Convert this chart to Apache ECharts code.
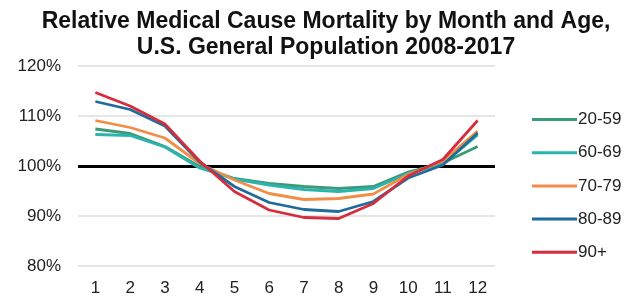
<!DOCTYPE html>
<html>
<head>
<meta charset="utf-8">
<script src="https://cdn.jsdelivr.net/npm/echarts@6/dist/echarts.min.js"></script>
<style>
  html, body { margin: 0; padding: 0; background: #fff; }
  #chart { width: 638px; height: 300px; }
</style>
</head>
<body>
<div id="chart"></div>
<script>
// months on the x axis
var months = ["1", "2", "3", "4", "5", "6", "7", "8", "9", "10", "11", "12"];
// relative mortality (%) per age group
var age2059 = [107.4, 106.5, 103.9, 99.9, 97.5, 96.5, 95.9, 95.5, 95.9, 98.8, 100.6, 103.9];
var age6069 = [106.3, 106.1, 103.8, 99.6, 97.4, 96.2, 95.3, 94.9, 95.5, 98.5, 100.4, 106.2];
var age7079 = [109.1, 107.7, 105.6, 100.5, 97.2, 94.5, 93.3, 93.5, 94.4, 98.3, 101.0, 107.0];
var age8089 = [112.9, 111.3, 108.0, 100.8, 95.9, 92.7, 91.3, 90.9, 92.9, 97.6, 100.2, 106.6];
var age90 = [114.7, 112.0, 108.4, 101.0, 94.9, 91.2, 89.7, 89.5, 92.5, 98.0, 101.3, 109.1];
var yTicks = [80, 90, 100, 110, 120];

var names = ["20-59", "60-69", "70-79", "80-89", "90+"];
var colors = ["#3b9a78", "#2bb3ad", "#f08d47", "#1f6b9c", "#d62d3c"];
var values = [age2059, age6069, age7079, age8089, age90];

var series = names.map(function (n, i) {
  return {
    name: n,
    type: "line",
    data: values[i],
    symbol: "none",
    lineStyle: { width: 2.8, color: colors[i] },
    itemStyle: { color: colors[i] },
    z: 3 + i
  };
});
// black reference line at 100%
series[0].markLine = {
  silent: true,
  symbol: "none",
  label: { show: false },
  lineStyle: { color: "#000", width: 3, type: "solid" },
  data: [{ yAxis: 100 }],
  z: 2
};

var font = "Liberation Sans";
var chart = echarts.init(document.getElementById("chart"));
chart.setOption({
  animation: false,
  color: colors,
  title: {
    text: "Relative Medical Cause Mortality by Month and Age,\nU.S. General Population 2008-2017",
    left: 321,
    textAlign: "center",
    top: 4,
    textStyle: {
      fontFamily: font,
      fontSize: 23,
      fontWeight: "bold",
      color: "#111",
      lineHeight: 26
    }
  },
  legend: {
    orient: "vertical",
    left: 527,
    top: 106,
    itemWidth: 45,
    itemHeight: 3,
    itemGap: 16.2,
    icon: "rect",
    textStyle: { fontFamily: font, fontSize: 17, color: "#222", padding: [0, 0, 0, -4] },
    data: names
  },
  grid: { left: 78, right: 143, top: 66, bottom: 34 },
  xAxis: {
    type: "category",
    data: months,
    boundaryGap: true,
    axisLine: { show: false },
    axisTick: { show: false },
    axisLabel: { fontFamily: font, fontSize: 17, color: "#222", margin: 14 }
  },
  yAxis: {
    type: "value",
    min: yTicks[0],
    max: yTicks[yTicks.length - 1],
    interval: 10,
    axisLine: { show: false },
    axisTick: { show: false },
    axisLabel: {
      fontFamily: font,
      fontSize: 17,
      color: "#222",
      margin: 17,
      formatter: function (v) { return v + "%"; }
    },
    splitLine: { lineStyle: { color: "#dcdcdc", width: 1.5 } }
  },
  series: series
});
</script>
</body>
</html>
